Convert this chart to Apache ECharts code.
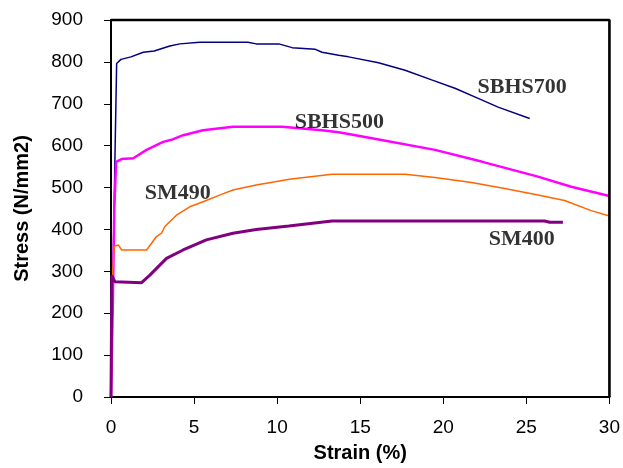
<!DOCTYPE html>
<html>
<head>
<meta charset="utf-8">
<script src="https://cdn.jsdelivr.net/npm/echarts@6/dist/echarts.min.js"></script>
<style>html,body{margin:0;padding:0;background:#fff;}#c{width:623px;height:468px;}</style>
</head>
<body>
<div id="c"></div>
<script>
var xTicks = [0, 5, 10, 15, 20, 25, 30];
var yTicks = [0, 100, 200, 300, 400, 500, 600, 700, 800, 900];
var xMax = 30, yMax = 900;
var sbhs700 = [[0,0],[0.25,600],[0.34,796],[0.6,806],[1.2,812],[1.94,823],[2.6,826],[3.54,838],[4.14,843],[5.34,847],[8.24,847],[8.74,843],[10.1,843],[10.9,834],[12.3,830],[12.7,823],[13.7,816],[14.3,812],[16.1,798],[17.7,780],[19.3,757],[20.7,737],[22.1,713],[23.3,692],[25.2,665]];
var sbhs500 = [[0,0],[0.1,200],[0.2,450],[0.3,555],[0.34,562],[0.64,568],[1.34,570],[2.14,590],[3.14,609],[3.64,614],[4.34,625],[5.54,637],[7.34,645],[10.3,645],[12.7,637],[13.7,632],[14.3,628],[16.2,614],[19.5,590],[22.3,562],[25.7,526],[27.7,502],[30,480]];
var sm490 = [[0,0],[0.1,296],[0.2,360],[0.44,363],[0.64,351],[2.14,351],[2.74,383],[3.04,391],[3.24,407],[3.94,434],[4.74,454],[5.54,466],[6.54,482],[7.34,494],[8.74,506],[10.74,520],[13.3,532],[17.7,532],[19.5,524],[21.7,512],[23.7,498],[25.7,482],[27.3,469],[28.9,445],[30,432]];
var sm400 = [[0,0],[0.05,290],[0.24,275],[1.84,273],[2.34,291],[3.34,331],[4.34,351],[5.74,375],[7.34,391],[8.74,400],[10.7,408],[13.3,420],[26.1,420],[26.4,417],[27.2,417]];
var labelNames = ['SBHS700', 'SBHS500', 'SM490', 'SM400'];
var labelPos = [[24.75, 740], [13.74, 656], [4.02, 487], [24.72, 377]];

var chart = echarts.init(document.getElementById('c'));
function lineSeries(name, data, color, width) {
  return { name: name, type: 'line', data: data, showSymbol: false, symbol: 'none',
    lineStyle: { color: color, width: width }, animation: false, z: 3 };
}
chart.setOption({
  animation: false,
  grid: { left: 111, right: 12, top: 20, bottom: 71, show: true, borderColor: '#000', borderWidth: 1.5 },
  xAxis: {
    type: 'value', min: 0, max: xMax, interval: 5,
    name: 'Strain (%)', nameLocation: 'middle', nameGap: 46,
    nameTextStyle: { fontFamily: 'Liberation Sans', fontWeight: 'bold', fontSize: 20, color: '#000' },
    axisLine: { show: true, onZero: false, lineStyle: { color: '#000', width: 2 } },
    axisTick: { show: true, length: 7, lineStyle: { color: '#000', width: 1 } },
    axisLabel: { margin: 21, fontFamily: 'Liberation Sans', fontSize: 19, color: '#000',
      formatter: function (v) { return xTicks.indexOf(v) >= 0 ? String(v) : ''; } },
    splitLine: { show: false }
  },
  yAxis: {
    type: 'value', min: 0, max: yMax, interval: 100,
    name: 'Stress (N/mm2)', nameLocation: 'middle', nameGap: 79,
    nameTextStyle: { fontFamily: 'Liberation Sans', fontWeight: 'bold', fontSize: 20, color: '#000' },
    axisLine: { show: true, onZero: false, lineStyle: { color: '#000', width: 2 } },
    axisTick: { show: true, length: 7, lineStyle: { color: '#000', width: 1 } },
    axisLabel: { margin: 28, fontFamily: 'Liberation Sans', fontSize: 19, color: '#000',
      formatter: function (v) { return yTicks.indexOf(v) >= 0 ? String(v) : ''; } },
    splitLine: { show: false }
  },
  series: [
    { name: 'frame', type: 'line', data: [[0, yMax], [xMax, yMax], [xMax, 0]], showSymbol: false, symbol: 'none',
      silent: true, clip: false, animation: false, z: 6, lineStyle: { color: '#000000', width: 2.5 } },
    lineSeries('SBHS700', sbhs700, '#000080', 1.5),
    lineSeries('SBHS500', sbhs500, '#FF00FF', 2.5),
    lineSeries('SM490', sm490, '#FF6600', 1.5),
    lineSeries('SM400', sm400, '#800080', 3),
    { type: 'scatter', symbolSize: 0, silent: true, animation: false, z: 5,
      data: labelPos.map(function (p, i) { return { value: p, name: labelNames[i] }; }),
      label: { show: true, position: 'inside', formatter: '{b}', fontFamily: 'Liberation Serif',
        fontWeight: 'bold', fontSize: 22, color: '#000' } }
  ]
});
</script>
</body>
</html>
